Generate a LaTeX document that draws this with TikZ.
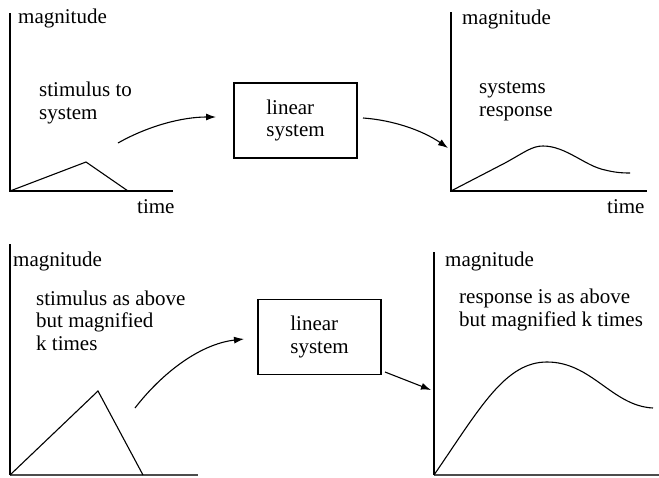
\documentclass[tikz,border=0pt]{standalone}
\usepackage{fontspec}
\setmainfont{Liberation Serif}
\usetikzlibrary{arrows.meta}
\begin{document}
\begin{tikzpicture}[x=1pt,y=-1pt,
  lbl/.style={anchor=base west,inner sep=0pt,align=left,font=\fontsize{21}{22.5}\selectfont},
  sysbox/.style={draw,line width=1.1pt,minimum width=123pt,minimum height=75pt,inner sep=0pt,align=left,font=\fontsize{21}{22.5}\selectfont},
  axis/.style={line width=1.1pt},
  sig/.style={line width=1.1pt,line join=miter},
  flow/.style={line width=1.1pt,-{Latex[length=10pt,width=7pt]}}]
\useasboundingbox (0,0) rectangle (659,477);
% ---------- top row ----------
\draw[axis] (10,13) -- (10,191) -- (173,191);
\draw[sig] (10,191) -- (86,162) -- (128,191);
\node[lbl] (mag1) at (18,23) {magnitude};
\node[lbl] (stim1) at (39,119) {stimulus to\\system};
\node[lbl] (time1) at (137,213) {time};
\node[sysbox] (box1) at (295.5,120.5) {linear\\system};
\draw[axis] (451,12) -- (451,191) -- (647,191);
\draw[sig] (451,191) -- (505,163) .. controls (525,152) and (532,146) .. (543,146)
  .. controls (566,146) and (585,166) .. (605,170) .. controls (615,172.5) and (622,173) .. (630,173);
\node[lbl] (mag2) at (462,24) {magnitude};
\node[lbl] (resp1) at (479,116) {systems\\response};
\node[lbl] (time2) at (607,213) {time};
\coordinate (a1s) at (118,143);
\coordinate (a1e) at (216,117);
\coordinate (a2s) at (363,118);
\coordinate (a2e) at (448,148);
\draw[flow] (a1s) .. controls (148,126) and (182,117) .. (a1e);
\draw[flow] (a2s) .. controls (392,120) and (422,130) .. (a2e);
% ---------- bottom row ----------
\draw[axis] (10,244) -- (10,475);
\draw[axis,black!70] (10,475) -- (198,475);
\draw[sig] (10,475) -- (98,391) -- (143,475);
\node[lbl] (mag3) at (13,266) {magnitude};
\node[lbl] (stim2) at (36,350) {stimulus as above\\but magnified\\k times};
\node[sysbox] (box2) at (319.5,337) {linear\\system};
\draw[axis] (434,252) -- (434,475);
\draw[axis,black!70] (434,475) -- (659,475);
\draw[sig] (434,475) .. controls (480,408) and (505,362) .. (547,362)
  .. controls (592,362) and (612,406) .. (653,408);
\node[lbl] (mag4) at (445,266) {magnitude};
\node[lbl] (resp2) at (459,326) {response is as above\\but magnified k times};
\coordinate (a3s) at (135,408);
\coordinate (a3e) at (244,339);
\coordinate (a4s) at (385,372);
\coordinate (a4e) at (431,390);
\draw[flow] (a3s) .. controls (162,373) and (200,344) .. (a3e);
\draw[flow] (a4s) -- (a4e);
\end{tikzpicture}
\end{document}
